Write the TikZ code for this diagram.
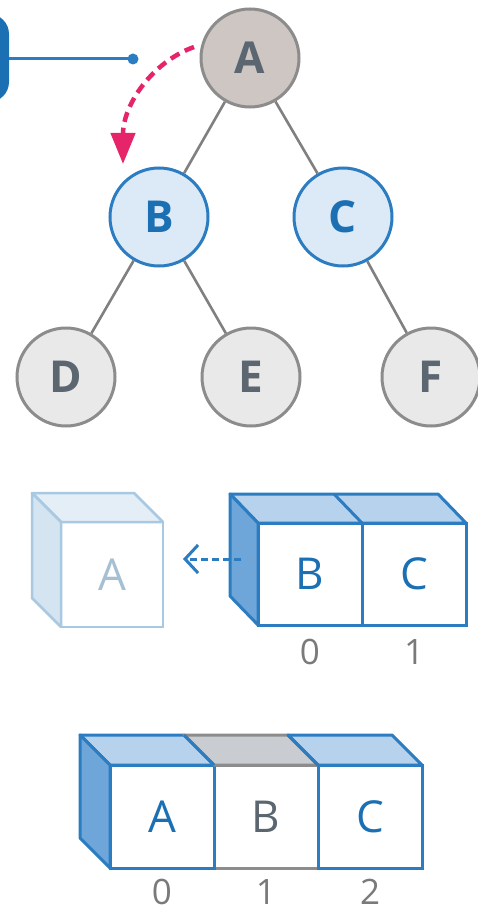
\documentclass[tikz,border=0pt]{standalone}
\usepackage{fontspec}
\setmainfont{Open Sans}
\usetikzlibrary{arrows.meta}
\definecolor{bstroke}{HTML}{2B7CC1}
\definecolor{btext}{HTML}{1B6FB3}
\definecolor{bfill}{HTML}{DCE9F6}
\definecolor{btop}{HTML}{B7D2EC}
\definecolor{bside}{HTML}{6EA6DA}
\definecolor{gstroke}{HTML}{8C8C8C}
\definecolor{afill}{HTML}{CDC6C3}
\definecolor{gfill}{HTML}{E9E9E9}
\definecolor{gtext}{HTML}{5B6670}
\definecolor{fstroke}{HTML}{A9C9E3}
\definecolor{ftop}{HTML}{E4EEF7}
\definecolor{fside}{HTML}{D5E4F1}
\definecolor{ftext}{HTML}{A5BFD3}
\definecolor{pinkc}{HTML}{E6246A}
\definecolor{numc}{HTML}{7A7A7A}
\definecolor{gtopfill}{HTML}{C9CDD1}
\begin{document}
\begin{tikzpicture}[x=1pt,y=-1pt,
  treenode/.style={circle, minimum size=98pt, inner sep=0pt, line width=3pt,
    font=\fontsize{44}{46}\selectfont\bfseries},
  greynode/.style={treenode, draw=gstroke, fill=gfill, text=gtext},
  bluenode/.style={treenode, draw=bstroke, fill=bfill, text=btext},
  rootnode/.style={treenode, draw=gstroke, fill=afill, text=gtext},
  edge/.style={draw=gray, line width=2.6pt},
  cubeface/.style={rectangle, inner sep=0pt, outer sep=0pt, minimum width=104pt,
    minimum height=102pt, line width=3pt, draw=bstroke, fill=white, text=btext,
    font=\fontsize{44}{46}\selectfont},
  cubeline/.style={line width=3pt, draw=bstroke, line join=round},
  idx/.style={font=\fontsize{35}{37}\selectfont, text=numc, inner sep=0pt}
]
\useasboundingbox (0,0) rectangle (478,912);

% left partial handle
\fill[btext, rounded corners=20pt] (-40,14) rectangle (9,102);
\coordinate (hend) at (9,59);
\node[circle, fill=bstroke, minimum size=11pt, inner sep=0pt] (dot) at (133,59) {};
\draw[bstroke, line width=3pt] (hend) -- (dot.center);

% tree
\node[rootnode] (A) at (250,58) {A};
\node[bluenode] (B) at (159,217) {B};
\node[bluenode] (C) at (343,217) {C};
\node[greynode] (D) at (66,377) {D};
\node[greynode] (E) at (251,377) {E};
\node[greynode] (F) at (431,377) {F};
\draw[edge] (A) -- (B);
\draw[edge] (A) -- (C);
\draw[edge] (B) -- (D);
\draw[edge] (B) -- (E);
\draw[edge] (C) -- (F);

% pink dashed arrow
\coordinate (ps) at (194,47);
\coordinate (pe) at (123,164);
\draw[pinkc, line width=4.5pt, dash pattern=on 10pt off 6pt,
  -{Triangle[length=31pt,width=24pt]}]
  (ps) .. controls (152,62) and (123,105) .. (pe);

% faded cube A
\node[cubeface, draw=fstroke, text=ftext, line width=2.5pt, minimum width=102pt,
  minimum height=105pt] (fA) at (112,574.5) {A};
\filldraw[fill=ftop, draw=fstroke, line width=2.5pt, line join=round]
  (fA.north west) -- ++(-29,-29) -- ++(102,0) -- (fA.north east) -- cycle;
\filldraw[fill=fside, draw=fstroke, line width=2.5pt, line join=round]
  (fA.north west) -- ++(-29,-29) -- ++(0,105) -- (fA.south west) -- cycle;

% B C cubes
\node[cubeface] (qB) at (310,574) {B};
\node[cubeface] (qC) at (414,574) {C};
\filldraw[cubeline, fill=btop]
  (qB.north west) -- ++(-28,-29) -- ([shift={(-28,-29)}]qC.north east) -- (qC.north east) -- cycle;
\draw[cubeline] (qB.north east) -- ++(-28,-29);
\filldraw[cubeline, fill=bside]
  (qB.north west) -- ++(-28,-29) -- ++(0,102) -- (qB.south west) -- cycle;
\node[idx] (i0) at (310,652) {0};
\node[idx] (i1) at (414,652) {1};

% dashed blue arrow
\coordinate (as) at (241,559);
\draw[bstroke, line width=3pt, dash pattern=on 7pt off 4pt,
  -{Straight Barb[length=13pt,width=28pt]}]
  (as) -- ([xshift=20pt]fA.east |- as);

% bottom array
\node[cubeface, draw=gstroke, text=gtext, minimum height=103pt] (rB) at (266,816.5) {B};
\node[cubeface, minimum height=103pt] (rA) at (162,816.5) {A};
\node[cubeface, minimum height=103pt] (rC) at (370,816.5) {C};
\draw[cubeline, draw=bstroke] (rB.north west) -- (rB.south west);
\draw[cubeline, draw=bstroke] (rB.north east) -- (rB.south east);
\filldraw[cubeline, fill=btop]
  (rA.north west) -- ++(-30,-30) -- ([shift={(-30,-30)}]rA.north east) -- (rA.north east) -- cycle;
\filldraw[cubeline, draw=gstroke, fill=gtopfill]
  (rB.north west) -- ++(-30,-30) -- ([shift={(-30,-30)}]rB.north east) -- (rB.north east) -- cycle;
\filldraw[cubeline, fill=btop]
  (rC.north west) -- ++(-30,-30) -- ([shift={(-30,-30)}]rC.north east) -- (rC.north east) -- cycle;
\draw[cubeline] (rB.north west) -- ++(-30,-30);
\draw[cubeline] (rB.north east) -- ++(-30,-30);
\filldraw[cubeline, fill=bside]
  (rA.north west) -- ++(-30,-30) -- ++(0,103) -- (rA.south west) -- cycle;
\node[idx] (j0) at (162,892) {0};
\node[idx] (j1) at (266,892) {1};
\node[idx] (j2) at (370,892) {2};
\end{tikzpicture}
\end{document}
